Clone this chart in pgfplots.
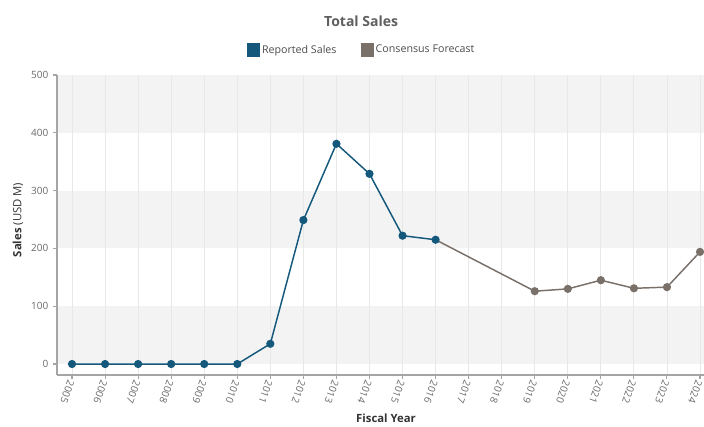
\documentclass[border=0pt]{standalone}
\usepackage{fontspec}
\setmainfont{Open Sans}
\usepackage{pgfplots}
\pgfplotsset{compat=1.18}

\definecolor{reported}{RGB}{20,88,124}
\definecolor{forecast}{RGB}{122,112,106}
\definecolor{band}{RGB}{243,243,243}
\definecolor{gridc}{RGB}{232,232,232}
\definecolor{axisc}{RGB}{165,165,165}
\definecolor{tickc}{RGB}{105,105,105}
\definecolor{titlec}{RGB}{95,95,95}

\begin{document}
\begin{tikzpicture}
\begin{axis}[
  set layers,
  scale only axis,
  width=485.25pt, height=225pt,
  xmin=2004.546, xmax=2024.12,
  ymin=-19, ymax=500,
  xtick={2005,...,2024},
  ytick={0,100,...,500},
  axis lines*=left,
  axis line style={axisc, line width=1.1pt},
  tick style={axisc, line width=0.8pt},
  tick align=outside,
  major tick length=3pt,
  xmajorgrids,
  major grid style={gridc, line width=0.6pt},
  /pgf/number format/assume math mode=true,
  /pgf/number format/1000 sep={},
  ticklabel style={font=\fontsize{7.5}{9}\selectfont, text=tickc},
  xticklabel style={rotate=-110, anchor=west, inner sep=1.5pt},
  clip=false,
  legend columns=2,
  legend style={at={(rel axis cs:0.4714,1.0833)}, anchor=center, draw=none, fill=none,
    font=\fontsize{8}{10}\selectfont, text=black!70,
    /tikz/every even column/.append style={column sep=16pt}},
]
\begin{pgfonlayer}{axis background}
\fill[band] (axis cs:2004.546,0) rectangle (axis cs:2024.12,100);
\fill[band] (axis cs:2004.546,200) rectangle (axis cs:2024.12,300);
\fill[band] (axis cs:2004.546,400) rectangle (axis cs:2024.12,500);
\end{pgfonlayer}

\addlegendimage{legend image code/.code={\fill[reported] (0pt,-4.8pt) rectangle (9pt,4.8pt);}}
\addlegendentry{Reported Sales}
\addlegendimage{legend image code/.code={\fill[forecast] (0pt,-4.8pt) rectangle (9pt,4.8pt);}}
\addlegendentry{Consensus Forecast}

% forecast drawn first so the reported 2016 marker sits on top
\addplot[forecast, line width=1.1pt, mark=*, mark size=2.5pt, mark indices={2,3,4,5,6,7}, forget plot]
  coordinates {(2016,215) (2019,126) (2020,130) (2021,145) (2022,131) (2023,133) (2024,194)};
\addplot[reported, line width=1.1pt, mark=*, mark size=2.5pt, forget plot]
  coordinates {(2005,0) (2006,0) (2007,0) (2008,0) (2009,0) (2010,0) (2011,35)
               (2012,249) (2013,381) (2014,329) (2015,222) (2016,215)};

\node[font=\fontsize{10.5}{12}\selectfont\bfseries, text=titlec] at (rel axis cs:0.470,1.18) {Total Sales};
\node[rotate=90, font=\fontsize{8.5}{10}\selectfont, text=black!80] at (rel axis cs:-0.0603,0.517) {\textbf{Sales} (USD M)};
\node[font=\fontsize{8.5}{10}\selectfont\bfseries, text=black!80] at (rel axis cs:0.5085,-0.143) {Fiscal Year};
\coordinate (sw) at (rel axis cs:0,0);
\end{axis}
\pgfresetboundingbox
\useasboundingbox (sw) ++(-42.75pt,-38.25pt) rectangle ++(528pt,319.5pt);
\end{tikzpicture}
\end{document}
